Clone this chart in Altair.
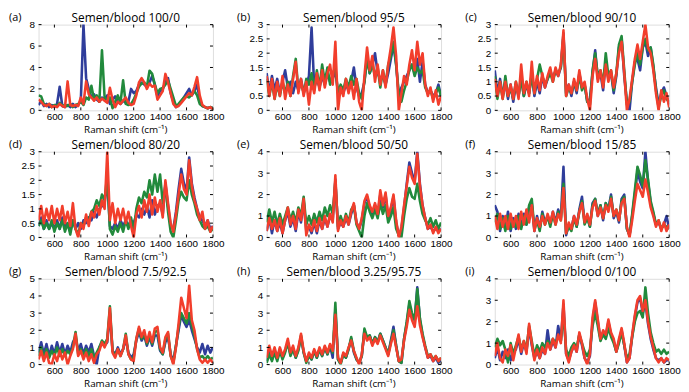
import altair as alt
import pandas as pd

# Raman shift grid (cm^-1)
SHIFT = list(range(480, 1801, 20))
XTICKS = [600, 800, 1000, 1200, 1400, 1600, 1800]

TITLES = ["Semen/blood 100/0", "Semen/blood 95/5", "Semen/blood 90/10",
          "Semen/blood 80/20", "Semen/blood 50/50", "Semen/blood 15/85",
          "Semen/blood 7.5/92.5", "Semen/blood 3.25/95.75", "Semen/blood 0/100"]
LETTERS = ["a", "b", "c", "d", "e", "f", "g", "h", "i"]
YTICKS = [[0, 2, 4, 6, 8], [0, 0.5, 1, 1.5, 2, 2.5, 3], [0, 0.5, 1, 1.5, 2, 2.5, 3],
          [0, 0.5, 1, 1.5, 2, 2.5, 3], [0, 1, 2, 3, 4], [0, 1, 2, 3, 4],
          [0, 1, 2, 3, 4, 5], [0, 1, 2, 3, 4, 5], [0, 1, 2, 3, 4]]
X_TITLE = "Raman shift (cm⁻¹)"

# ---- (a) 100/0
A_BLUE = [0.5, 0.9, 0.4, 0.6, 0.3, 0.5, 0.3, 0.6, 2.2, 0.4,
          0.3, 0.5, 0.3, 0.6, 0.3, 0.5, 0.9, 8.0, 3.0, 2.0,
          1.2, 1.5, 1.0, 0.8, 1.2, 1.0, 1.4, 0.6, 1.0, 1.3,
          0.8, 0.6, 0.9, 0.7, 0.8, 2.0, 1.6, 1.8, 2.4, 2.6,
          2.4, 2.2, 2.6, 3.2, 2.4, 1.3, 1.8, 2.0, 2.6, 3.0,
          1.6, 0.8, 0.3, 0.5, 0.8, 1.2, 1.6, 2.0, 1.4, 1.8,
          2.4, 1.0, 0.4, 0.3, 0.2, 0.3, 0.2]
A_GREEN = [1.4, 1.3, 0.6, 0.4, 0.6, 0.3, 0.5, 0.4, 0.7, 0.4,
           0.5, 0.4, 0.6, 0.3, 0.5, 0.6, 0.8, 0.5, 1.2, 1.0,
           2.3, 1.0, 1.4, 0.8, 5.6, 1.2, 1.0, 1.2, 0.2, 0.8,
           1.4, 0.7, 2.8, 0.6, 0.5, 0.6, 1.0, 1.6, 2.2, 2.5,
           2.6, 2.2, 3.7, 3.4, 2.4, 1.6, 2.0, 2.1, 2.4, 2.8,
           2.0, 1.2, 0.4, 0.6, 0.9, 1.2, 1.3, 1.2, 1.5, 1.8,
           1.4, 0.6, 0.4, 0.3, 0.2, 0.3, 0.2]
A_RED = [1.0, 0.8, 0.5, 0.4, 0.6, 0.3, 0.4, 0.3, 0.6, 0.4,
         0.3, 2.7, 0.5, 0.4, 0.5, 0.4, 1.2, 0.6, 2.7, 1.5,
         1.2, 0.9, 1.2, 0.8, 1.1, 0.9, 0.7, 2.1, 1.0, 0.3,
         0.8, 0.6, 0.9, 1.2, 0.7, 0.5, 0.6, 1.4, 2.6, 3.0,
         2.6, 2.0, 2.5, 2.2, 2.3, 1.0, 1.4, 1.8, 3.4, 2.6,
         1.6, 0.6, 0.3, 0.4, 0.7, 1.0, 1.3, 1.6, 1.4, 2.2,
         3.1, 1.4, 0.5, 0.3, 0.2, 0.3, 0.1]

# ---- (b) 95/5
B_BLUE = [1.3, 0.6, 1.2, 0.7, 1.1, 0.6, 1.0, 1.4, 0.8, 1.0,
          0.6, 1.0, 0.7, 1.1, 0.6, 0.9, 1.2, 2.9, 0.8, 1.1,
          0.8, 1.2, 0.9, 1.3, 1.0, 1.1, 1.4, 0.6, 0.8, 0.6,
          0.9, 0.7, 1.0, 1.5, 0.8, 0.5, 0.6, 1.0, 1.9, 1.3,
          1.6, 2.0, 1.3, 1.1, 1.2, 0.9, 1.3, 1.8, 2.3, 1.6,
          0.5, 0.8, 1.0, 1.2, 1.4, 1.6, 1.3, 1.8, 1.0, 1.7,
          0.9, 0.6, 0.7, 0.5, 0.6, 0.9, 0.5]
B_GREEN = [1.1, 0.5, 1.0, 0.4, 0.9, 0.5, 1.0, 0.6, 1.0, 0.5,
           1.2, 1.8, 0.7, 1.0, 0.6, 1.1, 0.9, 1.3, 0.7, 1.4,
           0.8, 1.6, 1.0, 1.5, 0.9, 1.3, 1.5, 0.6, 0.9, 0.7,
           1.1, 0.8, 1.2, 0.9, 1.1, 0.6, 0.4, 1.0, 1.8, 1.3,
           1.6, 1.2, 1.5, 0.8, 1.4, 0.9, 1.6, 1.9, 2.4, 1.6,
           0.6, 0.3, 0.7, 1.0, 1.4, 1.6, 1.2, 1.5, 1.3, 1.4,
           0.8, 0.6, 0.7, 0.4, 0.6, 0.8, 0.5]
B_RED = [1.2, 0.5, 1.1, 0.4, 1.0, 0.5, 1.2, 0.4, 0.9, 0.5,
         1.1, 1.7, 0.6, 1.1, 0.5, 1.0, 0.2, 1.0, 0.6, 1.3,
         0.7, 1.4, 0.8, 1.3, 1.6, 0.9, 2.4, 0.0, 0.8, 0.5,
         1.1, 0.6, 1.0, 0.4, 1.1, 0.3, 0.0, 1.2, 2.2, 1.4,
         1.9, 1.0, 1.6, 0.9, 1.4, 0.8, 1.6, 2.2, 2.9, 1.9,
         0.0, 0.6, 1.2, 0.9, 1.6, 2.1, 1.4, 2.4, 1.6, 2.0,
         0.9, 0.5, 0.8, 0.3, 0.7, 0.2, 0.5]

# ---- (c) 90/10
C_BLUE = [1.4, 0.6, 1.1, 0.5, 1.0, 0.4, 0.9, 0.3, 0.9, 0.5,
          1.2, 0.5, 0.9, 0.6, 1.3, 0.5, 1.0, 0.6, 1.2, 0.8,
          1.1, 1.4, 1.1, 1.4, 1.2, 1.5, 2.7, 0.6, 0.9, 0.5,
          1.0, 0.6, 1.3, 0.8, 0.9, 0.3, 0.4, 1.3, 2.1, 1.1,
          1.3, 0.7, 1.7, 1.1, 1.3, 0.6, 1.2, 2.2, 2.5, 1.2,
          0.3, 0.0, 1.0, 1.7, 1.8, 1.4, 2.2, 2.4, 1.9, 2.2,
          1.5, 0.8, 0.2, 0.6, 0.8, 0.5, 0.2]
C_GREEN = [1.2, 0.4, 1.0, 0.4, 1.2, 0.5, 0.8, 0.4, 1.0, 0.5,
           1.1, 0.5, 1.0, 0.6, 1.2, 0.6, 1.1, 1.6, 1.2, 0.9,
           1.1, 1.3, 1.0, 1.4, 1.3, 1.5, 2.6, 0.5, 0.8, 0.6,
           1.0, 0.7, 1.2, 0.7, 0.9, 0.3, 0.2, 1.4, 2.0, 1.2,
           1.4, 0.9, 2.0, 1.2, 1.4, 0.7, 1.3, 2.3, 2.6, 1.4,
           0.2, 0.3, 1.0, 1.6, 2.0, 1.6, 2.2, 2.5, 2.1, 2.2,
           1.6, 0.7, 0.1, 0.5, 0.7, 0.4, 0.3]
C_RED = [1.1, 0.5, 1.0, 0.4, 1.0, 0.5, 0.9, 0.4, 1.0, 0.4,
         1.6, 0.6, 1.0, 0.5, 1.7, 0.6, 1.2, 0.7, 1.3, 0.8,
         1.2, 1.5, 1.0, 1.5, 1.2, 1.6, 2.8, 0.5, 0.9, 0.6,
         1.1, 0.7, 1.4, 0.8, 1.0, 0.4, 0.0, 1.2, 1.8, 1.0,
         1.4, 0.8, 1.6, 1.0, 1.4, 0.8, 1.3, 2.0, 2.4, 1.3,
         0.0, 0.4, 1.1, 1.8, 2.3, 1.8, 2.4, 3.0, 2.2, 2.0,
         1.4, 0.6, 0.0, 0.7, 0.3, 0.6, 0.1]

# ---- (d) 80/20
D_BLUE = [0.4, 0.7, 0.3, 0.6, 0.3, 0.5, 0.3, 0.6, 0.3, 0.7,
          0.4, 0.5, 0.2, 0.6, 0.3, 0.5, 0.3, 0.6, 0.5, 0.7,
          0.6, 0.9, 0.7, 1.0, 1.1, 1.2, 2.0, 0.4, 0.3, 0.5,
          0.3, 0.6, 0.4, 0.6, 0.4, 0.6, 0.5, 0.8, 0.7, 1.0,
          0.8, 1.1, 0.7, 1.3, 0.8, 1.1, 1.2, 0.8, 1.9, 1.1,
          0.4, 0.3, 0.9, 1.7, 2.4, 1.9, 1.6, 2.8, 1.9, 1.4,
          1.0, 0.7, 0.6, 0.4, 0.6, 0.3, 0.4]
D_GREEN = [0.4, 0.6, 0.3, 0.5, 0.3, 0.6, 0.2, 0.5, 0.3, 0.6,
           0.2, 0.5, 0.1, 0.6, 0.3, 0.1, 0.5, 0.4, 0.7, 0.6,
           0.9, 1.0, 1.3, 1.1, 1.5, 1.3, 2.2, 0.3, 0.1, 0.4,
           0.2, 0.5, 0.2, 0.6, 0.3, 0.7, 0.2, 1.0, 1.4, 1.2,
           1.6, 1.4, 2.0, 1.5, 2.2, 1.6, 2.2, 1.2, 1.8, 0.9,
           0.2, 0.0, 0.6, 1.3, 1.6, 1.4, 1.3, 2.0, 1.5, 1.2,
           0.8, 0.6, 0.4, 0.3, 0.4, 0.2, 0.3]
D_RED = [0.6, 1.1, 0.5, 1.0, 0.6, 1.1, 0.5, 1.0, 0.6, 1.1,
         0.5, 0.9, 0.4, 1.2, 0.3, 0.0, 0.5, 0.3, 0.8, 0.4,
         0.9, 0.7, 1.1, 0.8, 1.3, 1.0, 3.0, 0.6, 1.2, 0.5,
         1.0, 0.6, 1.0, 0.5, 0.9, 0.4, 0.0, 0.8, 1.1, 0.7,
         1.3, 0.9, 1.5, 0.8, 1.4, 0.9, 1.3, 0.7, 2.0, 1.2,
         0.5, 0.2, 0.8, 1.5, 2.2, 1.7, 1.5, 2.7, 1.8, 1.3,
         1.0, 0.6, 0.9, 0.3, 0.6, 0.2, 0.4]

# ---- (e) 50/50
E_BLUE = [0.3, 0.9, 0.2, 0.8, 0.3, 0.7, 0.2, 0.8, 1.2, 0.5,
          0.9, 0.3, 1.2, 0.7, 1.7, 0.3, 0.5, 0.2, 0.7, 0.2,
          0.8, 0.4, 0.9, 0.5, 1.0, 0.8, 2.7, 0.4, 0.7, 0.5,
          0.9, 0.6, 1.1, 1.5, 0.7, 0.4, 0.8, 1.6, 1.9, 1.4,
          1.1, 1.5, 1.0, 2.0, 1.4, 2.0, 0.9, 1.3, 1.9, 0.7,
          0.1, 0.4, 1.4, 2.5, 3.5, 3.0, 2.6, 4.0, 2.5, 1.5,
          0.9, 0.4, 0.5, 0.3, 0.4, 0.3, 0.4]
E_GREEN = [0.7, 1.3, 0.7, 1.2, 0.6, 1.1, 0.6, 1.0, 1.4, 0.8,
           1.2, 0.7, 1.4, 1.0, 1.9, 0.6, 1.0, 0.6, 1.1, 0.7,
           1.2, 0.8, 1.4, 1.0, 1.5, 1.1, 2.6, 0.5, 1.0, 0.6,
           1.1, 0.7, 1.3, 1.5, 0.6, 0.3, 0.0, 1.0, 1.6, 1.2,
           0.9, 1.3, 0.9, 1.6, 1.1, 1.5, 0.7, 1.0, 1.4, 0.4,
           0.1, 0.0, 1.0, 1.8, 2.3, 1.9, 1.8, 2.5, 1.7, 1.1,
           0.8, 0.6, 0.9, 0.5, 0.8, 0.4, 0.7]
E_RED = [0.3, 0.9, 0.4, 0.8, 0.3, 0.9, 0.2, 0.8, 1.4, 0.6,
         1.0, 0.4, 1.3, 0.8, 1.8, 0.1, 0.6, 0.3, 0.8, 0.3,
         0.9, 0.4, 1.0, 0.5, 1.1, 0.7, 2.9, 0.3, 0.8, 0.5,
         1.0, 0.6, 1.2, 1.6, 0.7, 0.4, 0.9, 1.7, 2.0, 1.5,
         1.2, 1.6, 1.1, 2.2, 1.5, 2.1, 1.0, 1.4, 2.0, 0.8,
         0.0, 0.5, 1.5, 2.4, 3.3, 2.8, 2.5, 3.9, 2.4, 1.5,
         0.9, 0.4, 0.6, 0.2, 0.5, 0.2, 0.4]

# ---- (f) 15/85
F_BLUE = [1.5, 1.2, 0.3, 1.0, 0.4, 1.2, 0.3, 0.9, 0.4, 1.1,
          0.5, 1.1, 0.6, 1.4, 1.6, 0.3, 1.0, 0.4, 1.2, 0.7,
          1.0, 0.6, 1.2, 0.7, 1.3, 0.9, 3.3, 0.1, 0.6, 0.4,
          1.0, 0.5, 1.3, 1.9, 0.7, 1.0, 0.5, 1.6, 1.8, 1.0,
          1.5, 0.8, 1.6, 1.3, 2.0, 0.9, 1.2, 0.7, 1.8, 2.0,
          0.4, 0.1, 1.0, 2.0, 3.1, 2.6, 2.3, 4.0, 2.6, 1.6,
          1.1, 0.6, 0.7, 0.4, 0.6, 1.0, 0.4]
F_GREEN = [0.7, 1.1, 0.4, 0.9, 0.3, 1.0, 0.4, 0.8, 0.5, 1.0,
           0.4, 1.0, 0.6, 1.5, 1.8, 0.4, 0.8, 0.3, 1.1, 0.6,
           1.0, 0.5, 1.1, 0.6, 1.2, 0.8, 2.5, 0.2, 0.5, 0.3,
           0.9, 0.5, 1.2, 1.7, 0.6, 0.9, 0.5, 1.5, 1.8, 1.1,
           1.5, 0.9, 1.6, 1.3, 1.9, 1.0, 1.3, 0.8, 1.7, 1.9,
           0.4, 0.1, 1.1, 2.2, 3.3, 2.9, 2.4, 3.6, 2.7, 1.7,
           1.2, 0.6, 0.8, 0.4, 0.6, 0.5, 0.4]
F_RED = [1.0, 0.4, 1.1, 0.5, 1.0, 0.4, 1.1, 0.5, 1.0, 0.4,
         1.2, 0.6, 1.3, 0.7, 1.5, 0.3, 0.9, 0.5, 1.0, 0.6,
         1.1, 0.7, 1.2, 0.6, 1.1, 0.8, 2.3, 0.2, 0.7, 0.4,
         1.0, 0.6, 1.2, 1.6, 0.7, 1.1, 0.6, 1.4, 1.7, 1.0,
         1.4, 0.9, 1.5, 1.2, 1.8, 1.0, 1.3, 0.8, 1.6, 1.8,
         0.5, 0.0, 0.8, 1.7, 2.5, 2.2, 1.9, 2.7, 2.1, 1.4,
         1.0, 0.5, 0.8, 0.3, 0.7, 0.3, 0.6]

# ---- (g) 7.5/92.5
G_BLUE = [0.7, 1.3, 0.6, 1.2, 0.5, 1.1, 0.6, 1.3, 0.7, 1.2,
          0.6, 1.1, 0.7, 1.3, 1.6, 0.8, 1.2, 0.6, 1.1, 0.7,
          1.2, 0.5, 0.0, 1.0, 1.3, 1.1, 1.3, 3.0, 0.8, 0.6,
          1.0, 0.6, 0.9, 1.5, 0.7, 0.4, 0.6, 1.4, 1.9, 1.4,
          1.7, 1.1, 1.6, 1.1, 1.7, 1.7, 0.8, 0.6, 1.3, 1.6,
          0.6, 0.2, 1.1, 2.0, 2.9, 2.5, 2.2, 2.6, 2.0, 1.5,
          1.0, 0.7, 1.2, 0.6, 1.1, 0.7, 1.0]
G_GREEN = [0.5, 1.0, 0.4, 0.9, 0.4, 0.8, 0.5, 1.0, 0.5, 0.9,
           0.5, 0.8, 0.6, 1.0, 1.9, 0.6, 0.9, 0.5, 0.9, 0.5,
           0.9, 0.4, 0.7, 1.0, 1.4, 1.2, 1.5, 3.4, 0.8, 0.5,
           0.9, 0.5, 0.9, 1.8, 0.6, 0.3, 0.4, 1.5, 2.1, 1.5,
           1.8, 1.2, 1.7, 1.2, 1.9, 2.0, 0.9, 0.6, 1.5, 1.8,
           0.5, 0.1, 1.1, 2.2, 3.0, 2.7, 2.4, 3.0, 2.3, 1.7,
           0.9, 0.4, 0.5, 0.3, 0.5, 0.3, 0.4]
G_RED = [0.3, 0.8, 0.2, 0.7, 0.1, 0.0, 0.6, 0.2, 0.8, 0.3,
         0.7, 0.0, 0.5, 0.9, 1.8, 0.5, 0.8, 0.3, 0.7, 0.2,
         0.6, 0.1, 0.6, 0.8, 1.3, 1.0, 1.4, 3.3, 0.7, 0.4,
         0.9, 0.5, 0.9, 1.7, 0.6, 0.3, 0.2, 1.5, 2.2, 1.6,
         2.0, 1.3, 1.9, 1.3, 2.1, 2.2, 1.0, 0.7, 1.6, 1.9,
         0.5, 0.0, 1.0, 2.4, 3.9, 3.3, 2.7, 4.6, 2.6, 2.0,
         0.9, 0.3, 0.1, 0.3, 0.1, 0.3, 0.1]

# ---- (h) 3.25/95.75
H_BLUE = [0.2, 0.8, 0.3, 0.8, 0.3, 0.9, 0.4, 0.8, 1.3, 0.6,
          0.9, 0.4, 0.9, 1.6, 0.7, 0.2, 0.6, 0.3, 0.8, 0.4,
          0.9, 0.5, 1.0, 0.6, 1.1, 0.4, 3.2, 0.3, 0.1, 0.6,
          0.4, 0.9, 1.5, 0.7, 0.3, 0.1, 0.5, 2.0, 1.5, 1.7,
          1.2, 1.6, 1.3, 1.8, 1.4, 1.0, 0.6, 1.4, 2.2, 1.1,
          0.2, 0.1, 1.5, 2.4, 3.5, 2.8, 2.6, 4.5, 2.6, 1.7,
          1.0, 0.4, 0.5, 0.2, 0.4, 0.1, 0.3]
H_GREEN = [0.1, 0.6, 0.2, 0.7, 0.2, 0.8, 0.3, 0.7, 1.3, 0.5,
           0.9, 0.4, 0.8, 1.7, 0.7, 0.1, 0.5, 0.3, 0.8, 0.4,
           0.9, 0.5, 1.0, 0.6, 1.1, 0.7, 3.6, 0.3, 0.0, 0.6,
           0.4, 0.9, 1.6, 0.8, 0.3, 0.1, 0.5, 2.1, 1.6, 1.7,
           1.2, 1.6, 1.3, 1.8, 1.4, 1.0, 0.6, 1.3, 2.0, 1.1,
           0.2, 0.1, 1.5, 2.5, 3.7, 3.0, 2.6, 4.4, 2.7, 1.8,
           1.1, 0.5, 0.6, 0.3, 0.5, 0.2, 0.4]
H_RED = [0.4, 1.1, 0.5, 1.0, 0.4, 1.0, 0.5, 0.9, 1.5, 0.7,
         1.1, 0.5, 1.0, 1.8, 0.8, 0.2, 0.7, 0.4, 0.9, 0.5,
         1.0, 0.6, 1.1, 0.7, 1.2, 0.8, 2.9, 0.4, 0.1, 0.7,
         0.5, 1.0, 1.4, 0.8, 0.4, 0.0, 0.6, 1.8, 1.4, 1.6,
         1.1, 1.5, 1.2, 1.7, 1.3, 0.9, 0.5, 1.2, 1.8, 1.0,
         0.2, 0.3, 1.4, 2.2, 3.2, 2.6, 2.2, 3.4, 2.3, 1.6,
         1.0, 0.4, 0.6, 0.2, 0.5, 0.2, 0.4]

# ---- (i) 0/100
I_BLUE = [0.3, 0.8, 0.2, 0.6, 0.3, 0.7, 0.2, 0.6, 0.7, 1.2,
          0.5, 1.0, 0.6, 1.7, 0.9, 0.3, 0.6, 0.3, 0.7, 0.5,
          1.6, 0.7, 1.1, 0.8, 1.8, 1.1, 2.8, 0.5, 0.2, 0.6,
          0.9, 0.6, 1.4, 0.9, 0.3, 0.1, 0.4, 2.0, 2.9, 2.0,
          1.2, 1.5, 1.3, 2.0, 1.4, 1.1, 0.6, 1.1, 1.6, 0.9,
          0.1, 0.3, 1.3, 2.2, 2.9, 3.1, 2.4, 2.9, 1.9, 1.2,
          0.7, 0.3, 0.2, 0.3, 0.1, 0.2, 0.2]
I_GREEN = [0.8, 1.2, 0.9, 1.1, 0.7, 0.1, 1.0, 0.5, 0.9, 1.3,
           0.7, 1.1, 0.7, 1.8, 1.1, 0.4, 0.9, 0.6, 1.0, 0.8,
           1.1, 0.9, 1.2, 1.0, 1.3, 1.1, 2.4, 0.7, 0.4, 0.8,
           1.0, 0.8, 1.4, 1.0, 0.6, 0.4, 0.7, 1.8, 2.4, 1.8,
           1.1, 1.4, 1.2, 1.7, 1.3, 1.0, 0.6, 1.0, 1.5, 0.9,
           0.3, 0.5, 1.3, 2.0, 2.4, 2.5, 2.2, 3.6, 2.4, 1.5,
           1.0, 0.6, 0.7, 0.5, 0.7, 0.5, 0.6]
I_RED = [0.4, 1.0, 0.3, 0.1, 0.7, 0.4, 0.9, 0.2, 0.8, 1.4,
         0.6, 1.1, 0.5, 1.9, 1.0, 0.2, 0.7, 0.3, 0.8, 0.5,
         1.0, 0.7, 1.2, 0.8, 1.4, 1.0, 3.0, 0.5, 0.1, 0.6,
         0.9, 0.6, 1.5, 1.0, 0.3, 0.0, 0.5, 2.2, 3.0, 2.1,
         1.2, 1.6, 1.4, 2.1, 1.5, 1.2, 0.6, 1.2, 1.7, 1.0,
         0.1, 0.3, 1.4, 2.3, 3.0, 3.2, 2.5, 3.0, 2.0, 1.3,
         0.8, 0.3, 0.1, 0.3, 0.1, 0.3, 0.2]

SERIES = [(A_BLUE, A_GREEN, A_RED), (B_BLUE, B_GREEN, B_RED), (C_BLUE, C_GREEN, C_RED),
          (D_BLUE, D_GREEN, D_RED), (E_BLUE, E_GREEN, E_RED), (F_BLUE, F_GREEN, F_RED),
          (G_BLUE, G_GREEN, G_RED), (H_BLUE, H_GREEN, H_RED), (I_BLUE, I_GREEN, I_RED)]

COLORS = {"blue": "#2F3D9B", "green": "#228A3C", "red": "#F23E2C"}
W = 177
ROW_H = [87, 87, 87]
FONT = "Open Sans"


def panel(letter, title, blue, green, red, yticks, h):
    n = len(SHIFT)
    for nm, arr in (("blue", blue), ("green", green), ("red", red)):
        if len(arr) != n:
            raise ValueError(f"panel {letter} {nm}: {len(arr)} values, expected {n}")
    rows = []
    for name, vals in (("blue", blue), ("green", green), ("red", red)):
        for xv, yv in zip(SHIFT, vals):
            rows.append({"x": xv, "v": yv, "s": name})
    df = pd.DataFrame(rows)
    xenc = alt.X("x:Q",
                 scale=alt.Scale(domain=[480, 1800], nice=False, zero=False),
                 axis=alt.Axis(values=XTICKS, format="d", title=None,
                               ticks=False, domain=False, grid=False, labelPadding=1,
                               labelFlush=False, labelOverlap=False))
    yenc = alt.Y("v:Q",
                 scale=alt.Scale(domain=[0, yticks[-1]], nice=False, zero=True),
                 axis=alt.Axis(values=yticks, format="~g", title=None, ticks=False,
                               domain=False, grid=False, labelPadding=4, labelOverlap=False))
    layers = []
    for name in ("blue", "green", "red"):
        layers.append(
            alt.Chart(df).transform_filter(alt.datum.s == name)
            .mark_line(color=COLORS[name], strokeWidth=2.6, clip=True, strokeJoin="round")
            .encode(x=xenc, y=yenc)
        )
    xt = pd.DataFrame({"x": XTICKS})
    yt = pd.DataFrame({"v": yticks})
    layers.append(alt.Chart(xt).mark_rule(color="black", strokeWidth=1)
                  .encode(x=xenc, y=alt.value(0), y2=alt.value(3)))
    layers.append(alt.Chart(xt).mark_rule(color="black", strokeWidth=1)
                  .encode(x=xenc, y=alt.value(h), y2=alt.value(h - 3)))
    layers.append(alt.Chart(yt).mark_rule(color="black", strokeWidth=1)
                  .encode(y=yenc, x=alt.value(0), x2=alt.value(3)))
    layers.append(alt.Chart(yt).mark_rule(color="black", strokeWidth=1)
                  .encode(y=yenc, x=alt.value(W), x2=alt.value(W - 3)))
    txt = pd.DataFrame({"lab": [f"({letter})"], "title": [title], "xt": [X_TITLE]})
    layers.append(alt.Chart(txt).mark_text(align="left", baseline="middle", fontSize=11,
                                           font=FONT, color="black")
                  .encode(x=alt.value(-30), y=alt.value(-7), text="lab:N"))
    layers.append(alt.Chart(txt).mark_text(align="center", baseline="alphabetic", fontSize=12,
                                           font=FONT, color="black")
                  .encode(x=alt.value(W / 2), y=alt.value(-3), text="title:N"))
    layers.append(alt.Chart(txt).mark_text(align="center", baseline="alphabetic", fontSize=10,
                                           font=FONT, color="black")
                  .encode(x=alt.value(W / 2), y=alt.value(h + 22.5), text="xt:N"))
    return alt.layer(*layers).properties(width=W, height=h)


panels = [panel(LETTERS[k], TITLES[k], *SERIES[k], YTICKS[k], ROW_H[k // 3]) for k in range(9)]

chart = alt.ConcatChart(
    concat=panels, columns=3, spacing={"row": 42, "column": 54.5}, bounds="flush", align="each"
).properties(
    padding={"left": 0, "top": 0, "right": 0, "bottom": 0}
).configure_view(
    stroke="black", strokeWidth=2
).configure_axis(
    labelFont=FONT, labelFontSize=9, labelColor="black"
).configure(background="white")

chart.save("out.html", embed_options={"renderer": "svg", "actions": False})
